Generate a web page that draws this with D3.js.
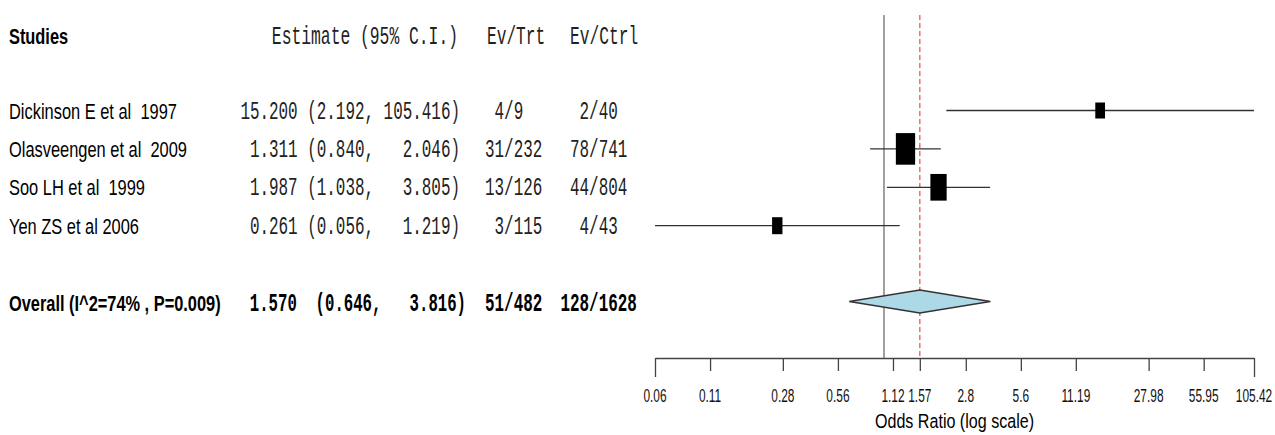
<!DOCTYPE html>
<html>
<head>
<meta charset="utf-8">
<script src="https://cdn.jsdelivr.net/npm/d3@7"></script>
<style>
  body { margin: 0; background: #fff; }
  text { white-space: pre; }
</style>
</head>
<body>
<script>

// study rows
var studies = [ "Dickinson E et al  1997", "Olasveengen et al  2009", "Soo LH et al  1999", "Yen ZS et al 2006" ],
    estimate = [ 15.200, 1.311, 1.987, 0.261 ],
    lower = [ 2.192, 0.840, 1.038, 0.056 ],
    upper = [ 105.416, 2.046, 3.805, 1.219 ],
    evTrt = [ "4/9", "31/232", "13/126", "3/115" ],
    evCtrl = [ "2/40", "78/741", "44/804", "4/43" ],
    weights = [ 17.5, 34.6, 29.2, 18.6 ];     // % weight

// pooled row
var overallLabel = "Overall (I^2=74% , P=0.009)",
    overallCI = [ 1.570, 0.646, 3.816 ],
    overallEv = [ "51/482", "128/1628" ];

// x axis
var tickValues = [ 0.056, 0.112, 0.28, 0.56, 1.12, 1.57, 2.8, 5.6, 11.19, 27.98, 55.95, 105.416 ],
    tickLabels = [ "0.06", "0.11", "0.28", "0.56", "1.12", "1.57", "2.8", "5.6", "11.19", "27.98", "55.95", "105.42" ];


var W = 1275, H = 435,
    mono = "'Liberation Mono', 'Courier New', monospace",
    sans = "'Liberation Sans', Arial, sans-serif",
    charW = 9.55,
    axisY = 358,
    lineTop = 15;

var svg = d3.select("body").append("svg")
    .attr("width", W)
    .attr("height", H);

var x = d3.scaleLog()
    .domain([ tickValues[0], tickValues[tickValues.length - 1] ])
    .range([ 655, 1254 ]);

var y = d3.scaleLinear()
    .domain([ 0, 5 ])
    .range([ 110.5, 302.5 ]);

var boxH = d3.scaleLinear()
    .domain([ 0, d3.max(weights) ])
    .range([ 0, 31.6 ]);


// narrow text: smaller font stretched back up vertically
function label(g, str, xx, yy, o) {
  var r = o.ratio;
  if (o.cw) r = o.cw / (0.6 * o.size);
  return g.append("text")
    .attr("transform", "translate(" + xx + "," + yy + ") scale(1," + (1 / r).toFixed(3) + ")")
    .attr("text-anchor", o.anchor || "start")
    .attr("font-family", o.family)
    .attr("font-size", (o.size * r).toFixed(2))
    .attr("font-weight", o.weight || "normal")
    .attr("fill", o.fill || "#000")
    .text(str);
}

function fix(v, w) {
  return v.toFixed(3).padStart(w, " ");
}

function ciText(e, l, u) {
  return fix(e, 6) + " (" + fix(l, 5) + "," + fix(u, 8) + ")";
}

// column text in a 6 char field
function evX(x0, s) {
  var pad = s.length < 6 ? 1 : (6 - s.length) / 2;
  return x0 + pad * charW;
}

var monoReg = function(cw) { return { family: mono, size: 25, cw: cw, fill: "#222" }; },
    monoBold = { family: mono, size: 25, cw: charW, weight: "bold" },
    sansReg = { family: sans, size: 22.5, ratio: 0.73 },
    sansBold = { family: sans, size: 22, ratio: 0.745, weight: "bold" };


// ---- headers
var head = svg.append("g");

label(head, "Studies", 9, 44, sansBold);
label(head, "Estimate (95% C.I.)", 458, 44, Object.assign(monoReg(9.8), { anchor: "end" }));
label(head, "Ev/Trt", 487, 44, monoReg(9.7));
label(head, "Ev/Ctrl", 570, 44, monoReg(9.75));


// ---- study text columns
var rows = svg.append("g");

studies.forEach(function(s, i) {
  var yy = y(i) + 8;

  label(rows, s, 9, yy, sansReg);
  label(rows, ciText(estimate[i], lower[i], upper[i]), 460, yy, Object.assign(monoReg(charW), { anchor: "end" }));
  label(rows, evTrt[i], evX(485, evTrt[i]), yy, monoReg(charW));
  label(rows, evCtrl[i], evX(570, evCtrl[i]), yy, monoReg(charW));
});

// overall text
var yo = y(5) + 8;

label(rows, overallLabel, 9, yo, sansBold);

var ovStr = overallCI[0].toFixed(3) + "  (" + overallCI[1].toFixed(3) + "," + overallCI[2].toFixed(3).padStart(8, " ") + ")";
label(rows, ovStr, 466, yo, Object.assign({}, monoBold, { anchor: "end", cw: 9.4 }));
label(rows, overallEv[0], evX(485, overallEv[0]), yo, monoBold);
label(rows, overallEv[1], evX(570, overallEv[1]), yo, monoBold);


// ---- plot
var plot = svg.append("g");

// no-effect line
plot.append("line")
  .attr("x1", x(1)).attr("x2", x(1))
  .attr("y1", lineTop).attr("y2", axisY)
  .attr("stroke", "#6e6e6e")
  .attr("stroke-width", 1.3);

// pooled estimate line
plot.append("line")
  .attr("x1", x(overallCI[0])).attr("x2", x(overallCI[0]))
  .attr("y1", lineTop).attr("y2", axisY - 2)
  .attr("stroke", "#f06060")
  .attr("stroke-width", 1.4)
  .attr("stroke-dasharray", "5,3");

// confidence intervals
plot.selectAll(".ci")
  .data(studies)
  .enter()
  .append("line")
    .attr("class", "ci")
    .attr("x1", function(d, i) { return x(lower[i]); })
    .attr("x2", function(d, i) { return x(upper[i]); })
    .attr("y1", function(d, i) { return y(i); })
    .attr("y2", function(d, i) { return y(i); })
    .attr("stroke", "#333")
    .attr("stroke-width", 1.3);

// boxes
plot.selectAll(".box")
  .data(studies)
  .enter()
  .append("rect")
    .attr("class", "box")
    .attr("x", function(d, i) { return x(estimate[i]) - boxH(weights[i]) * 0.305; })
    .attr("y", function(d, i) { return y(i) - boxH(weights[i]) / 2; })
    .attr("width", function(d, i) { return boxH(weights[i]) * 0.61; })
    .attr("height", function(d, i) { return boxH(weights[i]); })
    .attr("fill", "#000");

// diamond
var dy = 11.5, yc = y(5) - 1;

plot.append("polygon")
  .attr("points", [
      [ x(overallCI[1]), yc ],
      [ x(overallCI[0]), yc - dy ],
      [ x(overallCI[2]), yc ],
      [ x(overallCI[0]), yc + dy ]
    ].map(function(p) { return p.join(","); }).join(" "))
  .attr("fill", "#add8e6")
  .attr("stroke", "#333")
  .attr("stroke-width", 1.4);


// ---- axis
var axis = d3.axisBottom(x)
  .tickValues(tickValues)
  .tickFormat("")
  .tickSize(13)
  .tickSizeOuter(0);

var gAxis = svg.append("g")
  .attr("transform", "translate(0," + axisY + ")")
  .call(axis);

gAxis.select(".domain")
  .attr("stroke", "#444")
  .attr("stroke-width", 1.3);

gAxis.selectAll(".tick line")
  .attr("stroke", "#444")
  .attr("stroke-width", 1.3)
  .attr("y2", function(d, i) { return (i === 0 || i === tickValues.length - 1) ? 19 : 13; });

// tick labels, placed by the same scale
var gTicks = svg.append("g");
tickValues.forEach(function(v, i) {
  label(gTicks, tickLabels[i], x(v), 402, { family: sans, size: 17.5, ratio: 0.68, anchor: "middle", fill: "#111" });
});

label(svg, "Odds Ratio (log scale)", (x.range()[0] + x.range()[1]) / 2, 428,
      { family: sans, size: 19.5, ratio: 0.825, anchor: "middle" });

</script>
</body>
</html>
